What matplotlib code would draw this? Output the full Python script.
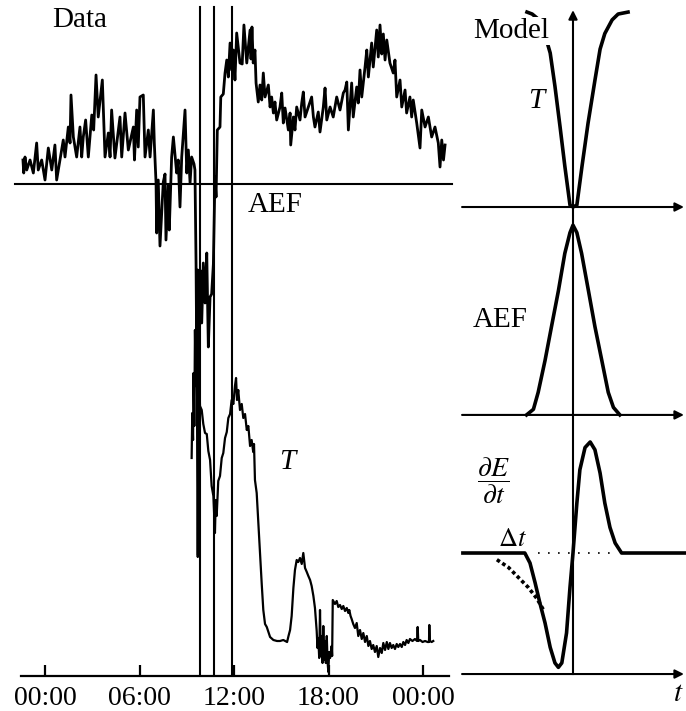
import matplotlib
matplotlib.use('Agg')
import matplotlib.pyplot as plt

plt.rcParams['font.family'] = ['Liberation Serif', 'DejaVu Serif']
plt.rcParams['mathtext.fontset'] = 'stix'

# ---------------- data ----------------
tick_hours = [0, 6, 12, 18, 24]
tick_labels = ["00:00", "06:00", "12:00", "18:00", "00:00"]
event_hours = [9.84, 10.70, 11.87]

aef_hours = [-1.40, -1.35, -1.27, -1.16, -0.95, -0.74, -0.53, -0.43, -0.21, 0.00,
             0.21, 0.43, 0.63, 0.74, 0.95, 1.16, 1.27, 1.48, 1.59, 1.65,
             1.80, 2.01, 2.22, 2.33, 2.43, 2.58, 2.75, 2.97, 3.09, 3.24,
             3.38, 3.64, 3.81, 4.02, 4.13, 4.23, 4.44, 4.76, 4.87, 5.08,
             5.29, 5.61, 5.68, 5.82, 5.92, 6.03, 6.24, 6.35, 6.56, 6.67,
             6.88, 6.94, 7.05, 7.09, 7.19, 7.30, 7.51, 7.62, 7.68, 7.83,
             7.89, 8.04, 8.15, 8.36, 8.46, 8.57, 8.68, 8.78, 8.89, 9.00,
             9.10, 9.21, 9.31, 9.46, 9.52, 9.59, 9.63, 9.70, 9.73, 9.76,
             9.84, 9.95, 10.05, 10.16, 10.27, 10.37, 10.48, 10.58, 10.69, 10.73,
             10.79, 10.86, 10.94, 11.11, 11.16, 11.32, 11.43, 11.54, 11.64, 11.75,
             11.85, 11.96, 12.06, 12.17, 12.38, 12.52, 12.63, 12.81, 13.02, 13.08,
             13.14, 13.22, 13.33, 13.40, 13.54, 13.65, 13.76, 13.86, 13.97, 14.18,
             14.29, 14.39, 14.50, 14.60, 14.71, 14.92, 15.03, 15.13, 15.24, 15.45,
             15.56, 15.60, 15.77, 15.87, 15.98, 16.19, 16.30, 16.40, 16.51, 16.72,
             16.93, 17.04, 17.14, 17.35, 17.46, 17.67, 17.78, 17.89, 18.10, 18.30,
             18.52, 18.73, 18.94, 19.05, 19.16, 19.26, 19.47, 19.57, 19.79, 19.89,
             20.00, 20.11, 20.32, 20.43, 20.53, 20.74, 20.84, 21.06, 21.16, 21.27,
             21.38, 21.48, 21.59, 21.70, 21.90, 22.11, 22.22, 22.33, 22.54, 22.65,
             22.86, 22.96, 23.17, 23.28, 23.38, 23.60, 23.81, 23.92, 24.13, 24.34,
             24.55, 24.76, 24.97, 25.08, 25.19, 25.30, 25.40]
aef_values = [24, 11, 27, 14, 24, 11, 41, 14, 24, 4,
              36, 14, 39, 4, 24, 44, 27, 57, 41, 89,
              47, 27, 57, 27, 47, 64, 27, 69, 54, 109,
              67, 104, 27, 51, 27, 74, 26, 67, 27, 71,
              34, 57, 24, 74, 37, 87, 89, 27, 54, 27,
              74, 41, 1, -49, 4, -62, 2, 10, -56, -1,
              -46, 27, 47, 11, 24, -23, 27, 50, 74, 11,
              34, 1, 27, 20, 14, -79, -166, -86, -371, -166,
              -86, -139, -79, -119, -69, -163, -113, -110, -80, -46,
              7, -13, 54, 57, 87, 90, 111, 124, 107, 141,
              114, 134, 104, 151, 121, 120, 159, 121, 154, 125,
              157, 121, 134, 101, 82, 99, 84, 111, 87, 99,
              77, 87, 71, 82, 64, 77, 91, 61, 76, 54,
              71, 39, 67, 54, 77, 64, 81, 92, 67, 77,
              87, 67, 57, 72, 52, 77, 96, 64, 77, 67,
              87, 74, 91, 94, 102, 54, 101, 67, 97, 81,
              114, 87, 117, 134, 107, 141, 117, 154, 127, 159,
              130, 150, 124, 144, 121, 111, 124, 87, 104, 77,
              94, 71, 87, 67, 84, 61, 36, 74, 57, 67,
              47, 57, 41, 17, 44, 24, 39]

t_hours = [9.31, 9.35, 9.40, 9.43, 9.48, 9.52, 9.57, 9.63, 9.70, 9.76,
           9.84, 9.95, 10.05, 10.16, 10.27, 10.37, 10.48, 10.58, 10.69, 10.79,
           10.84, 10.90, 11.00, 11.11, 11.22, 11.32, 11.43, 11.54, 11.64, 11.75,
           11.85, 11.96, 12.06, 12.13, 12.19, 12.27, 12.38, 12.49, 12.59, 12.70,
           12.81, 12.91, 13.02, 13.12, 13.22, 13.27, 13.33, 13.44, 13.54, 13.65,
           13.76, 13.86, 13.97, 14.08, 14.29, 14.50, 14.73, 14.92, 15.13, 15.37,
           15.46, 15.56, 15.66, 15.77, 15.87, 15.98, 16.08, 16.19, 16.30, 16.40,
           16.51, 16.62, 16.72, 16.83, 16.93, 17.04, 17.14, 17.25, 17.30, 17.35,
           17.41, 17.46, 17.51, 17.57, 17.62, 17.67, 17.73, 17.78, 17.83, 17.89,
           17.94, 17.99, 18.04, 18.10, 18.20, 18.23, 18.27, 18.41, 18.52, 18.62,
           18.73, 18.84, 18.94, 19.05, 19.16, 19.26, 19.32, 19.40, 19.47, 19.57,
           19.68, 19.79, 19.89, 20.00, 20.11, 20.21, 20.32, 20.43, 20.53, 20.63,
           20.74, 20.84, 20.95, 21.06, 21.16, 21.27, 21.38, 21.48, 21.59, 21.70,
           21.80, 21.90, 22.01, 22.11, 22.22, 22.33, 22.43, 22.54, 22.65, 22.75,
           22.86, 22.96, 23.07, 23.17, 23.33, 23.49, 23.62, 23.66, 23.70, 23.81,
           23.97, 24.13, 24.29, 24.38, 24.40, 24.43, 24.55, 24.65]
t_values = [218, 263, 236, 303, 250, 346, 290, 336, 119, 320,
            270, 266, 252, 243, 242, 225, 216, 190, 180, 143,
            176, 160, 195, 200, 218, 223, 238, 244, 258, 262,
            276, 272, 290, 298, 276, 286, 266, 272, 258, 262,
            246, 250, 230, 236, 224, 232, 196, 183, 154, 122,
            92, 66, 52, 49, 39, 36, 35, 35, 36, 34,
            40, 46, 60, 88, 106, 116, 114, 118, 112, 123,
            108, 104, 100, 96, 90, 80, 68, 45, 28, 38,
            18, 66, 20, 40, 13, 50, 16, 35, 13, 40,
            14, 4, 24, 18, 30, 20, 76, 72, 75, 69,
            71, 67, 70, 65, 68, 63, 66, 60, 57, 52,
            48, 53, 40, 46, 37, 43, 34, 40, 30, 35,
            27, 31, 24, 30, 19, 28, 23, 33, 26, 34,
            27, 33, 28, 31, 27, 32, 29, 32, 29, 34,
            31, 36, 33, 37, 35, 37, 35, 49, 35, 36,
            34, 35, 34, 34, 51, 35, 34, 35]

# model curves (arbitrary units, t = 0 at the event)
model_T_t = [-1.07, -0.95, -0.84, -0.70, -0.53, -0.42, -0.30, -0.19, -0.07, 0.0,
             0.09, 0.21, 0.35, 0.51, 0.63, 0.74, 0.91, 1.05, 1.28]
model_T_v = [1.0, 0.99, 0.97, 0.92, 0.79, 0.62, 0.41, 0.21, 0.01, 0.0,
             0.01, 0.21, 0.43, 0.65, 0.81, 0.89, 0.96, 0.99, 1.0]

model_AEF_t = [-1.08, -0.92, -0.81, -0.65, -0.50, -0.34, -0.19, -0.07, 0.0,
               0.09, 0.20, 0.36, 0.51, 0.67, 0.82, 0.94, 1.09]
model_AEF_v = [0, 0.03, 0.12, 0.29, 0.47, 0.66, 0.86, 0.97, 1.01,
               0.97, 0.86, 0.66, 0.47, 0.29, 0.12, 0.04, 0]

model_dE_t = [-2.56, -1.12, -1.00, -0.88, -0.77, -0.65, -0.53, -0.42, -0.34, -0.26,
              -0.15, -0.07, 0.0, 0.09, 0.16, 0.28, 0.40, 0.51, 0.63, 0.74,
              0.86, 0.98, 1.13, 2.63]
model_dE_v = [0, 0, -0.09, -0.27, -0.45, -0.63, -0.85, -0.99, -1.03, -0.99,
              -0.72, -0.31, 0, 0.45, 0.75, 0.95, 1.0, 0.93, 0.72, 0.45,
              0.23, 0.09, 0, 0]

early_dE_t = [-1.77, -1.50, -1.27, -1.04, -0.84, -0.69]
early_dE_v = [-0.06, -0.13, -0.22, -0.31, -0.41, -0.51]
delta_t_span = [-0.81, 0.86]

# ---------------- figure ----------------
W, H = 686, 711
fig = plt.figure(figsize=(W / 100, H / 100), dpi=100)


def box(x0, y0, x1, y1):
    return [x0 / W, 1 - y1 / H, (x1 - x0) / W, (y1 - y0) / H]


def ftext(x, y, s, **kw):
    fig.text(x / W, 1 - y / H, s, ha='center', va='center', **kw)


# left "Data" panel: T on the base axes, AEF on a twin
axL = fig.add_axes(box(21, 5, 449, 676))
axL.set_xlim(-1.524, 25.65)
axL.set_ylim(0, 671)
axL.plot(t_hours, t_values, color='black', lw=1.6)
for s in ['top', 'right', 'left']:
    axL.spines[s].set_visible(False)
axL.spines['bottom'].set_linewidth(1.6)
axL.set_yticks([])
axL.set_xticks(tick_hours)
axL.set_xticklabels(tick_labels, fontsize=20)
axL.tick_params(axis='x', direction='in', length=8, width=1.6, pad=7)

axA = axL.twinx()
axA.set_ylim(-492, 179)
axA.set_axis_off()
axA.plot(aef_hours, aef_values, color='black', lw=2.0)
axA.axhline(0, xmin=-0.014, xmax=1.007, color='black', lw=1.5, clip_on=False)
for h in event_hours:
    axA.axvline(h, ymin=0, ymax=0.997, color='black', lw=1.5)

# right "Model" panels
arrow = dict(arrowstyle='-|>', lw=1.5, color='black', mutation_scale=13,
             shrinkA=0, shrinkB=0)
xl = (-2.744, 2.628)

axT = fig.add_axes(box(455, 0, 686, 215))
axT.set_xlim(*xl)
axT.set_ylim(-0.041, 1.062)
axT.set_axis_off()
axT.annotate('', xy=(2.58, 0), xytext=(-2.58, 0), arrowprops=arrow)
axT.annotate('', xy=(0, 1.01), xytext=(0, -0.041), arrowprops=arrow)
axT.plot(model_T_t, model_T_v, color='black', lw=2.6)

axM = fig.add_axes(box(455, 215, 686, 420))
axM.set_xlim(*xl)
axM.set_ylim(-0.027, 1.064)
axM.set_axis_off()
axM.axvline(0, color='black', lw=1.5)
axM.annotate('', xy=(2.58, 0), xytext=(-2.58, 0), arrowprops=arrow)
axM.plot(model_AEF_t, model_AEF_v, color='black', lw=2.6)

axE = fig.add_axes(box(455, 420, 686, 711))
axE.set_xlim(*xl)
axE.set_ylim(-1.423, 1.198)
axE.set_axis_off()
axE.plot([0, 0], [1.198, -1.09], color='black', lw=1.5)
axE.annotate('', xy=(2.58, -1.09), xytext=(-2.58, -1.09), arrowprops=arrow)
axE.plot(delta_t_span, [0, 0], color='black', lw=1.2, linestyle=(0, (1, 5)))
axE.plot(model_dE_t, model_dE_v, color='black', lw=2.6)
axE.plot(early_dE_t, early_dE_v, color='black', lw=2.6, linestyle=(0, (1, 0.8)))

# labels
ftext(80, 20, "Data", fontsize=21)
ftext(275, 205, "AEF", fontsize=21)
ftext(287, 462, "T", fontsize=21, fontstyle='italic')
ftext(511, 31, "Model", fontsize=21,
      bbox=dict(facecolor='white', edgecolor='none', pad=0.5))
ftext(536, 101, "T", fontsize=21, fontstyle='italic')
ftext(500, 320, "AEF", fontsize=21)
ftext(493, 481, r'$\dfrac{\partial E}{\partial t}$', fontsize=20)
ftext(512, 540, r'$\Delta t$', fontsize=19)
ftext(678, 694, r'$t$', fontsize=21)

fig.savefig('out.png', dpi=100)
